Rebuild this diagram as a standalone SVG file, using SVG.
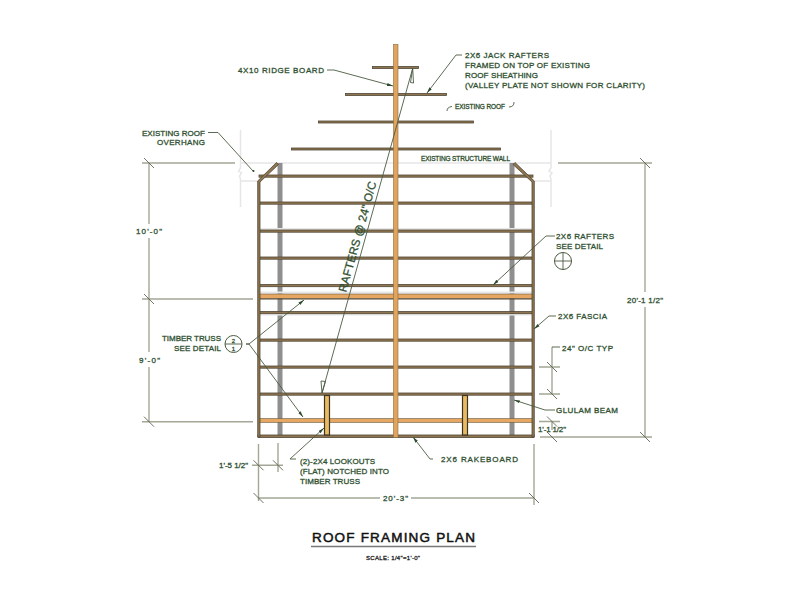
<svg xmlns="http://www.w3.org/2000/svg" width="800" height="600" viewBox="0 0 800 600">
<style>
text{font-family:"Liberation Sans",Arial,sans-serif;font-size:8px;fill:#2f5030;stroke:#2f5030;stroke-width:.3}
.e{text-anchor:end}
.dim{stroke:#a3a896;stroke-width:1.4;fill:none}
.tick{stroke:#4a5440;stroke-width:.8;fill:none}
.ghost{stroke:#e6e6e6;stroke-width:1.5;fill:none}
.lead{stroke:#4a5a40;stroke-width:.9;fill:none;marker-end:url(#a)}
.plain{stroke:#4a5a40;stroke-width:.9;fill:none}
.raf{fill:#8f7650;stroke:#4f4636;stroke-width:.8}
.beam{fill:#e6a763;stroke:#4f4636;stroke-width:.5}
.ridge{fill:#e0a45f;stroke:#8a6a40;stroke-width:.6}
.look{fill:#e8bb62;stroke:#3d3426;stroke-width:1.2}
.glu{fill:#8f8f8f}
.shade{fill:#e8e8e8}
</style>
<defs>
<marker id="a" markerWidth="7" markerHeight="5" refX="6" refY="2" orient="auto" markerUnits="userSpaceOnUse"><path d="M0 .5L6 2L0 3.5z" fill="#2c4a2c"/></marker>
<path id="tk" d="M-5 -5L5 5" class="tick"/>
</defs>

<g id="existing-structure">
<path class="ghost" d="M240.500 130V168l-2 3 3 2-2 3 1 3V207M551 130V168l-2 3 3 2-2 3 1 3V207"/>
<path class="ghost" d="M241 163H551M241 181H258M533 181H551"/>
</g>

<g id="glulam-beams">
<rect class="glu" x="277.500" y="163" width="5" height="273"/>
<rect class="glu" x="509.500" y="163" width="5" height="273"/>
</g>

<g id="jack-rafters">
<rect class="raf" x="372.500" y="66.500" width="46" height="2"/>
<rect class="raf" x="345.500" y="93.500" width="101" height="2"/>
<rect class="raf" x="318.500" y="121" width="155" height="2"/>
<rect class="raf" x="291.500" y="148" width="209" height="2"/>
</g>

<g id="rafters">
<rect class="shade" x="259" y="228" width="274" height="2"/><rect class="shade" x="259" y="291.500" width="274" height="2"/><rect class="shade" x="259" y="314" width="274" height="1.500"/>
<rect class="raf" x="259" y="175" width="274" height="2.200"/>
<rect class="raf" x="259" y="202" width="274" height="2.200"/>
<rect class="raf" x="259" y="230" width="274" height="2.200"/>
<rect class="raf" x="259" y="257" width="274" height="2.200"/>
<rect class="raf" x="259" y="284.500" width="274" height="2.200"/>
<rect class="raf" x="259" y="311.500" width="274" height="2.200"/>
<rect class="raf" x="259" y="339" width="274" height="2.200"/>
<rect class="raf" x="259" y="366" width="274" height="2.200"/>
<rect class="raf" x="259" y="393" width="274" height="2.200"/>
<rect class="beam" x="259" y="294" width="274" height="4.500"/>
<path d="M259 299H533" stroke="#4f4636" stroke-width="1"/>
<rect class="beam" x="259" y="418.500" width="274" height="4"/>
<rect class="raf" x="258" y="435" width="276" height="2.500"/>
</g>

<g id="fascia">
<path class="raf" d="M257.700 437V181L276.500 162.500L278.500 164.500L260 182V437Z"/>
<path class="raf" d="M534.300 437V181L515 162.500L513 164.500L532 182V437Z"/>
</g>

<g id="lookouts">
<rect class="look" x="324.500" y="395.500" width="5" height="39.500"/>
<rect class="look" x="462.500" y="395.500" width="5" height="39.500"/>
</g>

<g id="ridge-board">
<rect class="ridge" x="393.500" y="44.500" width="4.500" height="393"/>
</g>

<g id="dimensions">
<path class="dim" d="M142 163H235M142 299H253M142 421.700H253M558 163H652M540 437H652"/>
<path class="dim" d="M149 163V224M149 238V352M149 367V421.700M645 163V292M645 307V437"/>
<path class="dim" d="M258.500 444V501M278 443V472M534 444V505M252 465.300H283M258 498H380M411 498H534"/>
<path class="dim" stroke-width="1" d="M552 347V394M552 421V430"/>
<path class="dim" d="M539 367H560M539 394H560M539 421.500H560"/>
<g id="ticks">
<use href="#tk" x="149" y="163"/><use href="#tk" x="149" y="299"/><use href="#tk" x="149" y="421.700"/>
<use href="#tk" x="645" y="163"/><use href="#tk" x="645" y="437"/>
<use href="#tk" x="552" y="367"/><use href="#tk" x="552" y="394"/><use href="#tk" x="552" y="421.500"/><use href="#tk" x="552" y="437"/>
<use href="#tk" x="258.500" y="465.300"/><use href="#tk" x="278" y="465.300"/><use href="#tk" x="258.500" y="498"/><use href="#tk" x="534" y="498"/>
</g>
</g>

<g id="connectors">
<path class="lead" d="M327 70H334L393 86"/>
<path class="lead" d="M462 55H456L427 93"/>
<path class="plain" d="M447 111Q447 107 452 106.500M509 107Q514 107 514 102"/>
<path class="plain" d="M208 132.500H218L253 171"/><circle cx="253.500" cy="171" r="1" fill="#2c4a2c"/>
<path class="lead" d="M246 344H249L304 300"/>
<path class="lead" d="M246 344H249L303 417"/>
<path class="lead" d="M555 236H546L493 285"/>
<path class="lead" d="M556 316H549L534 329"/>
<path class="plain" d="M560 347H552"/>
<path class="lead" d="M555 410H545L514 400"/>
<path class="lead" d="M433 459H430L413 437"/>
<path class="lead" d="M296 459H290L324 428"/>
<path class="plain" d="M322 393L412.700 68.300M322 393L321 381L325.500 381.500ZM412.700 68.300L410.500 82.500L413.500 83Z"/>
</g>

<g id="detail-markers">
<g id="truss-marker"><circle cx="233.500" cy="344" r="8.500" fill="#fff" stroke="#4a5a40"/><path class="plain" d="M225 344H242"/><text x="233.500" y="342.500" text-anchor="middle" style="font-size:6px">2</text><text x="233.500" y="351" text-anchor="middle" style="font-size:6px">1</text></g>
<g id="rafter-marker"><circle cx="563" cy="261" r="8.500" fill="#fff" stroke="#4a5a40"/><path class="plain" d="M554.500 261H571.500M563 252.500V269.500"/></g>
</g>

<g id="labels">
<text x="238" y="73" textLength="86">4X10 RIDGE BOARD</text>
<text x="465" y="58" textLength="84">2X6 JACK RAFTERS</text>
<text x="465" y="68" textLength="125">FRAMED ON TOP OF EXISTING</text>
<text x="465" y="77.500" textLength="73">ROOF SHEATHING</text>
<text x="465" y="87.500" textLength="180">(VALLEY PLATE NOT SHOWN FOR CLARITY)</text>
<text x="455" y="109" textLength="50" style="font-size:6.500px">EXISTING ROOF</text>
<text x="421" y="161" textLength="89" style="font-size:6.500px">EXISTING STRUCTURE WALL</text>
<text x="142" y="136" textLength="63">EXISTING ROOF</text>
<text x="157" y="145" textLength="48">OVERHANG</text>
<text x="162" y="341" textLength="59">TIMBER TRUSS</text>
<text x="174" y="351" textLength="47">SEE DETAIL</text>
<text x="556" y="239" textLength="58">2X6 RAFTERS</text>
<text x="556" y="249" textLength="47">SEE DETAIL</text>
<text x="558" y="319" textLength="49">2X6 FASCIA</text>
<text x="562" y="351" textLength="51">24" O/C TYP</text>
<text x="556" y="413" textLength="62">GLULAM BEAM</text>
<text x="441" y="462" textLength="77">2X6 RAKEBOARD</text>
<text x="300" y="464" textLength="75">(2)-2X4 LOOKOUTS</text>
<text x="300" y="474" textLength="89">(FLAT) NOTCHED INTO</text>
<text x="300" y="484" textLength="60">TIMBER TRUSS</text>
<text x="136" y="234" textLength="26">10'-0"</text>
<text x="139" y="363" textLength="21">9'-0"</text>
<text x="627" y="303" textLength="36">20'-1 1/2"</text>
<text x="219" y="468" textLength="29">1'-5 1/2"</text>
<text x="538" y="432" textLength="28">1'-1 1/2"</text>
<text x="383" y="501" textLength="25">20'-3"</text>
<text transform="translate(346 292.700) rotate(-74.500)" textLength="114" style="font-size:11.500px">RAFTERS @ 24" O/C</text>
<text x="312" y="542" textLength="163" style="font-size:13.500px;fill:#111;stroke:#111;stroke-width:.5">ROOF FRAMING PLAN</text>
<path d="M311 546.500H476" stroke="#777" stroke-width="1.500"/>
<text x="366" y="560" textLength="54" style="font-size:6px;fill:#222;stroke:#222">SCALE: 1/4"=1'-0"</text>
</g>
</svg>
